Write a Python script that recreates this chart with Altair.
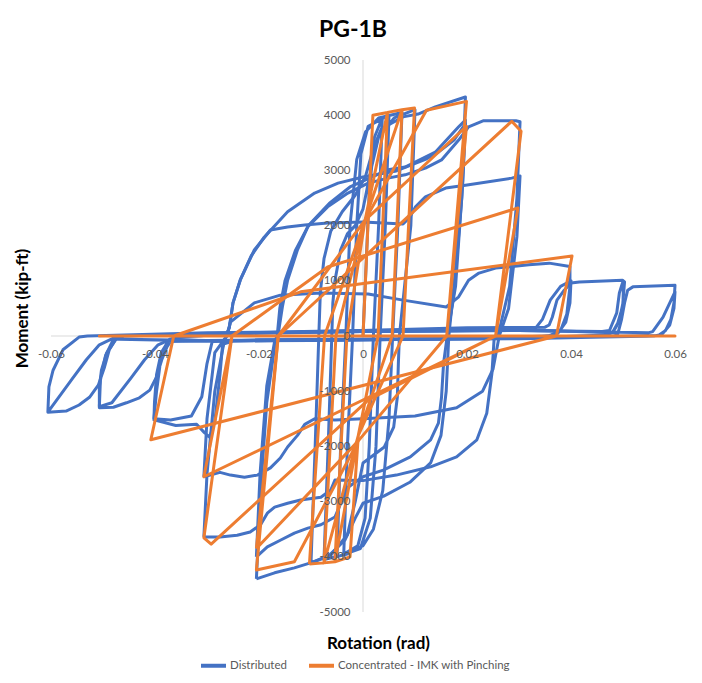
import altair as alt
import pandas as pd

# ---------------- data (rotation in rad, moment in kip-ft) ----------------
series_names = ["Distributed", "Concentrated - IMK with Pinching"]
series_colors = ["#4472C4", "#ED7D31"]

x_ticks = [-0.06, -0.04, -0.02, 0, 0.02, 0.04, 0.06]
y_ticks = [-5000, -4000, -3000, -2000, -1000, 0, 1000, 2000, 3000, 4000, 5000]

# ---- Distributed model: traced strokes ----
blue_small = [
    (0.0000, 0), (0.0012, 2600), (0.0022, 3600), (0.0037, 3950),
    (0.0030, 2000), (0.0020, 0), (0.0012, -2000), (0.0004, -3300), (-0.0010, -3800), (-0.0037, -3950),
    (-0.0030, -2000), (-0.0020, 0), (-0.0012, 2000), (-0.0004, 3300), (0.0010, 3800), (0.0050, 4000),
    (0.0043, 2000), (0.0033, 0), (0.0025, -2000), (0.0014, -3300), (-0.0005, -3850), (-0.0050, -4000),
    (-0.0043, -2000), (-0.0033, 0), (-0.0025, 2000), (-0.0012, 3200), (0.0005, 3700), (0.0030, 3950),
    (0.0075, 4050),
    (0.0067, 2000), (0.0057, 0), (0.0050, -1500), (0.0038, -2800), (0.0020, -3500), (0.0000, -3800),
    (-0.0030, -3950), (-0.0075, -4050),
    (-0.0067, -2000), (-0.0060, 0), (-0.0058, 600), (-0.0054, 1000), (-0.0043, 1560), (-0.0030, 1850),
    (-0.0015, 2000), (0.0000, 2300), (0.0015, 3000), (0.0030, 3600), (0.0060, 3950), (0.0100, 4100),
    (0.0092, 2000), (0.0070, 0), (0.0068, -500), (0.0066, -1110), (0.0059, -1650), (0.0041, -2010),
    (0.0000, -2300), (-0.0015, -3000), (-0.0030, -3600), (-0.0060, -3950), (-0.0100, -4110),
]
blue_env = [
    (-0.0100, -4110), (-0.0092, -2000), (-0.0085, 0), (-0.0082, 800), (-0.0075, 1400), (-0.0062, 1900),
    (-0.0040, 2250), (-0.0015, 2550), (0.0005, 2900), (0.0020, 3400), (0.0035, 3750), (0.0054, 3850),
    (0.0077, 3970), (0.0106, 4020), (0.0139, 4150), (0.0197, 4330),
    (0.0192, 3000), (0.0178, 1200), (0.0165, 0), (0.0160, -1000), (0.0150, -1800), (0.0130, -2300),
    (0.0090, -2650), (0.0040, -2900), (0.0000, -3030), (-0.0015, -3300), (-0.0035, -3700),
    (-0.0068, -4000), (-0.0101, -4110), (-0.0132, -4200), (-0.0170, -4290), (-0.0205, -4400),
]
blue_c03a = [
    (-0.0205, -4400), (-0.0197, -2800), (-0.0185, -1200), (-0.0170, -200), (-0.0162, 100),
    (-0.0155, 530), (-0.0145, 1010), (-0.0126, 1560), (-0.0106, 1980), (-0.0068, 2340), (-0.0029, 2590),
    (0.0010, 2770), (0.0048, 2860), (0.0081, 2920), (0.0120, 3040), (0.0151, 3190), (0.0184, 3550),
    (0.0203, 3790), (0.0232, 3900), (0.0294, 3900), (0.0302, 3880),
    (0.0296, 2500), (0.0282, 900), (0.0262, 100), (0.0252, -70), (0.0248, -670), (0.0238, -1400),
    (0.0219, -1880), (0.0180, -2190), (0.0130, -2370), (0.0064, -2520), (0.0000, -2620), (-0.0054, -2610),
    (-0.0062, -2790), (-0.0081, -2920), (-0.0120, -2970), (-0.0145, -3030), (-0.0170, -3100),
    (-0.0184, -3210), (-0.0197, -3420), (-0.0217, -3550), (-0.0242, -3610), (-0.0275, -3640), (-0.0306, -3640),
]
blue_c03b = [
    (-0.0306, -3640), (-0.0300, -2500), (-0.0285, -1000), (-0.0267, -100), (-0.0257, 160), (-0.0250, 600),
    (-0.0236, 1015), (-0.0215, 1450), (-0.0190, 1790), (-0.0145, 2250), (-0.0093, 2590), (-0.0048, 2770),
    (0.0000, 2880), (0.0064, 2990), (0.0120, 3200), (0.0145, 3330), (0.0175, 3550), (0.0197, 3850),
    (0.0192, 2800), (0.0178, 900), (0.0162, 0), (0.0155, -490), (0.0151, -1110), (0.0145, -1580),
    (0.0130, -1880), (0.0091, -2190), (0.0039, -2430), (0.0000, -2550), (-0.0030, -2750), (-0.0054, -3280),
    (-0.0081, -3420), (-0.0106, -3480), (-0.0132, -3570), (-0.0159, -3700), (-0.0184, -3820), (-0.0205, -4000),
]
blue_c02b = [
    (-0.0205, -4000), (-0.0198, -2500), (-0.0185, -900), (-0.0170, -100), (-0.0165, 0), (-0.0160, 500),
    (-0.0150, 1000), (-0.0130, 1550), (-0.0105, 2000), (-0.0065, 2400), (-0.0025, 2700), (0.0048, 3010),
    (0.0081, 3060), (0.0139, 3330), (0.0184, 3790), (0.0197, 3910),
    (0.0190, 2500), (0.0175, 800), (0.0162, 0),
]
blue_c03c = [
    (-0.0270, -200), (-0.0257, 160), (-0.0250, 600), (-0.0236, 1015), (-0.0209, 1558), (-0.0178, 1920),
    (-0.0145, 1975), (-0.0112, 2011), (-0.0068, 2048), (0.0000, 2066), (0.0077, 2030), (0.0090, 2150),
    (0.0101, 2340), (0.0120, 2520), (0.0159, 2680), (0.0197, 2730), (0.0286, 2860), (0.0302, 2900),
    (0.0296, 1800), (0.0280, 500), (0.0262, 0), (0.0250, -600), (0.0230, -1000), (0.0180, -1300),
    (0.0100, -1450), (0.0000, -1500), (-0.0054, -1520), (-0.0093, -1500), (-0.0112, -1600), (-0.0126, -1800),
    (-0.0145, -2010), (-0.0159, -2210), (-0.0178, -2390), (-0.0203, -2520), (-0.0228, -2560),
    (-0.0255, -2520), (-0.0275, -2470), (-0.0306, -2550),
]
blue_040 = [
    (-0.0306, -2550), (-0.0300, -1500), (-0.0285, -300), (-0.0262, 0), (-0.0255, 250), (-0.0209, 600),
    (-0.0159, 740), (-0.0081, 780), (0.0010, 760), (0.0077, 650), (0.0160, 525), (0.0184, 710),
    (0.0203, 1010), (0.0223, 1140), (0.0255, 1230), (0.0319, 1290), (0.0358, 1320), (0.0398, 1260),
    (0.0398, 900), (0.0392, 400), (0.0380, 100), (0.0360, 10), (0.0300, -40), (0.0100, -60),
    (-0.0100, -80), (-0.0250, -90), (-0.0270, -150), (-0.0275, -700), (-0.0285, -1550), (-0.0295, -1830),
    (-0.0305, -1750), (-0.0320, -1600), (-0.0360, -1620), (-0.0402, -1520),
    (-0.0401, -1200), (-0.0397, -700), (-0.0388, -300), (-0.0372, -60), (-0.0350, -10), (-0.0200, 50),
    (0.0000, 80), (0.0200, 100), (0.0330, 120), (0.0345, 300), (0.0360, 650), (0.0380, 900), (0.0400, 1000),
    (0.0398, 600), (0.0390, 250), (0.0375, 50), (0.0355, 0), (0.0200, -50), (0.0000, -60), (-0.0200, -70),
    (-0.0290, -100), (-0.0300, -500), (-0.0310, -1100), (-0.0330, -1450), (-0.0370, -1520), (-0.0402, -1500),
]
blue_050 = [
    (-0.0402, -1500), (-0.0397, -1000), (-0.0390, -500), (-0.0377, -120), (-0.0360, -20), (-0.0200, 60),
    (0.0000, 100), (0.0200, 150), (0.0350, 160), (0.0358, 200), (0.0364, 340), (0.0373, 650), (0.0387, 830),
    (0.0400, 960), (0.0416, 980), (0.0499, 1010),
    (0.0503, 980), (0.0499, 525), (0.0490, 235), (0.0480, 70), (0.0468, 20), (0.0300, -40), (0.0000, -70),
    (-0.0300, -90), (-0.0360, -60), (-0.0368, -70), (-0.0377, -200), (-0.0387, -430), (-0.0397, -740),
    (-0.0410, -980), (-0.0430, -1120), (-0.0455, -1210), (-0.0480, -1290), (-0.0507, -1300),
    (-0.0507, -920), (-0.0503, -620), (-0.0493, -310), (-0.0474, -40), (-0.0460, 0), (-0.0200, 60),
    (0.0000, 80), (0.0300, 100), (0.0460, 80), (0.0474, 100), (0.0488, 420), (0.0493, 780), (0.0499, 960),
    (0.0501, 990),
    (0.0500, 600), (0.0492, 250), (0.0480, 60), (0.0465, 10), (0.0200, -50), (0.0000, -70), (-0.0300, -90),
    (-0.0380, -100), (-0.0394, -160), (-0.0420, -430), (-0.0446, -760), (-0.0483, -1210), (-0.0507, -1280),
]
blue_060 = [
    (-0.0507, -1280), (-0.0505, -800), (-0.0495, -350), (-0.0480, -60), (-0.0465, 0), (-0.0200, 70),
    (0.0000, 100), (0.0300, 120), (0.0480, 60), (0.0490, 40), (0.0497, 290), (0.0503, 600), (0.0509, 830),
    (0.0519, 890), (0.0600, 920),
    (0.0598, 600), (0.0592, 300), (0.0582, 100), (0.0568, 10), (0.0300, -40), (0.0000, -60), (-0.0300, -80),
    (-0.0460, -60), (-0.0474, -40), (-0.0488, -250), (-0.0497, -560), (-0.0509, -890), (-0.0526, -1110),
    (-0.0546, -1250), (-0.0571, -1360), (-0.0606, -1380),
    (-0.0604, -920), (-0.0596, -620), (-0.0577, -250), (-0.0546, -20), (-0.0530, 0), (-0.0300, 60),
    (0.0000, 80), (0.0300, 100), (0.0550, 60), (0.0557, 80), (0.0577, 340), (0.0590, 600), (0.0600, 800),
    (0.0598, 500), (0.0590, 200), (0.0575, 30), (0.0560, 0), (0.0300, -50), (0.0000, -70), (-0.0300, -90),
    (-0.0470, -60), (-0.0480, -40), (-0.0507, -160), (-0.0532, -430), (-0.0561, -800), (-0.0606, -1380),
]

# ---- Concentrated IMK model with pinching (piecewise linear) ----
orange_small = [
    (0.0000, 0), (0.0019, 4000), (0.0047, 4050),
    (0.0029, 0), (-0.0009, -1800), (-0.0025, -4000), (-0.0054, -4090),
    (-0.0031, 0), (0.0004, 2100), (0.0047, 4050), (0.0052, 4060), (0.0075, 4100),
    (0.0056, 0), (-0.0009, -1800), (-0.0054, -4090), (-0.0075, -4110),
    (-0.0052, 0), (0.0004, 2100), (0.0075, 4100), (0.0099, 4130),
    (0.0077, 0), (-0.0009, -1800), (-0.0075, -4110), (-0.0103, -4130),
]
orange_mid = [
    (-0.0103, -4130), (-0.0074, 0), (0.0004, 2100), (0.0122, 4090), (0.0199, 4250),
    (0.0161, 0), (-0.0009, -1900), (-0.0132, -4090), (-0.0205, -4240),
    (-0.0163, 0), (0.0004, 2100), (0.0199, 3800),
    (0.0161, 0), (-0.0009, -1900), (-0.0205, -3850),
]
orange_030 = [
    (-0.0205, -3850), (-0.0163, 0), (0.0286, 3890), (0.0304, 3710),
    (0.0255, 0), (0.0010, -1160), (-0.0292, -3770), (-0.0306, -3655),
    (-0.0252, 0), (-0.0068, 1250), (0.0298, 2320),
    (0.0255, 0), (-0.0306, -2550),
    (-0.0252, 0),
]
orange_040 = [
    (-0.0364, 0), (-0.0120, 800), (0.0402, 1450),
    (0.0372, 0), (-0.0408, -1880),
    (-0.0364, 0), (0.0600, 0), (-0.0507, 0), (0.0400, 0),
]

blue_strokes = [blue_small, blue_env, blue_c03a, blue_c03b, blue_c02b, blue_c03c, blue_040, blue_050, blue_060]
orange_strokes = [orange_small, orange_mid, orange_030, orange_040]


def to_frame(strokes, name):
    rows = []
    for s, pts in enumerate(strokes):
        for i, (r, m) in enumerate(pts):
            rows.append({"rot": r, "mom": m, "series": name, "seg": s, "i": i})
    return pd.DataFrame(rows)


blue_df = to_frame(blue_strokes, series_names[0])
orange_df = to_frame(orange_strokes, series_names[1])

axes_df = pd.DataFrame({"rot": [-0.06, 0], "rot2": [0.06, 0], "mom": [0, -5000], "mom2": [0, 5000]})

# ---------------- encodings ----------------
W, H = 624, 552
FONT = "Lato"

x_scale = alt.Scale(domain=[-0.06, 0.06], nice=False, zero=False)
y_scale = alt.Scale(domain=[-5000, 5000], nice=False, zero=False)

x_axis = alt.Axis(
    values=x_ticks, domain=False, grid=False, ticks=False, tickSize=0,
    labelExpr="abs(datum.value) < 1e-9 ? '0' : (datum.value < 0 ? '-' : '') + format(abs(datum.value), '.2f')",
    labelFont=FONT, labelFontSize=11.5, labelColor="#595959", labelPadding=12,
    labelFlush=False, labelOverlap=False, offset=-H / 2, zindex=1,
    title="Rotation (rad)", titleFont=FONT, titleFontSize=17, titleFontWeight="bold",
    titleColor="#000000", titleX=327, titleY=307, titleBaseline="middle", titleAlign="center",
)
y_axis = alt.Axis(
    values=y_ticks, domain=False, grid=False, ticks=False, tickSize=0,
    labelExpr="abs(datum.value) < 1e-9 ? '0' : (datum.value < 0 ? '-' : '') + format(abs(datum.value), 'd')",
    labelFont=FONT, labelFontSize=11.5, labelColor="#595959", labelPadding=13,
    labelFlush=False, labelOverlap=False, offset=-W / 2, zindex=1,
    title="Moment (kip-ft)", titleFont=FONT, titleFontSize=17, titleFontWeight="bold",
    titleColor="#000000", titleX=-341, titleY=248, titleBaseline="middle", titleAlign="center",
)

X = alt.X("rot:Q", scale=x_scale, axis=x_axis)
Y = alt.Y("mom:Q", scale=y_scale, axis=y_axis)

color = alt.Color(
    "series:N",
    scale=alt.Scale(domain=series_names, range=series_colors),
    legend=alt.Legend(
        title=None, orient="none", legendX=148, legendY=591, direction="horizontal",
        symbolType="stroke", symbolSize=625, symbolStrokeWidth=4,
        labelFont=FONT, labelFontSize=11.5, labelColor="#595959", labelOffset=2,
        labelLimit=0, columnPadding=14,
    ),
)

axis_lines = alt.Chart(axes_df).mark_rule(color="#d9d9d9", strokeWidth=1).encode(
    x=X, x2="rot2:Q", y=Y, y2="mom2:Q"
)

blue = alt.Chart(blue_df).mark_line(strokeWidth=3, strokeJoin="round").encode(
    x=X, y=Y, color=color, detail="seg:N", order="i:Q"
)
orange = alt.Chart(orange_df).mark_line(strokeWidth=3, strokeJoin="round").encode(
    x=X, y=Y, color=color, detail="seg:N", order="i:Q"
)

chart = (
    alt.layer(axis_lines, blue, orange)
    .properties(
        width=W, height=H,
        autosize=alt.AutoSizeParams(type="none"),
        padding={"left": 43, "top": 52, "right": 19, "bottom": 63},
        title=alt.TitleParams(
            "PG-1B", font=FONT, fontSize=23, fontWeight="bold", color="#000000",
            anchor="middle", dx=-10, offset=12,
        ),
    )
    .configure(background="white", view=alt.ViewConfig(stroke=None))
)

chart.save("out.html", embed_options={"renderer": "svg", "actions": False})
